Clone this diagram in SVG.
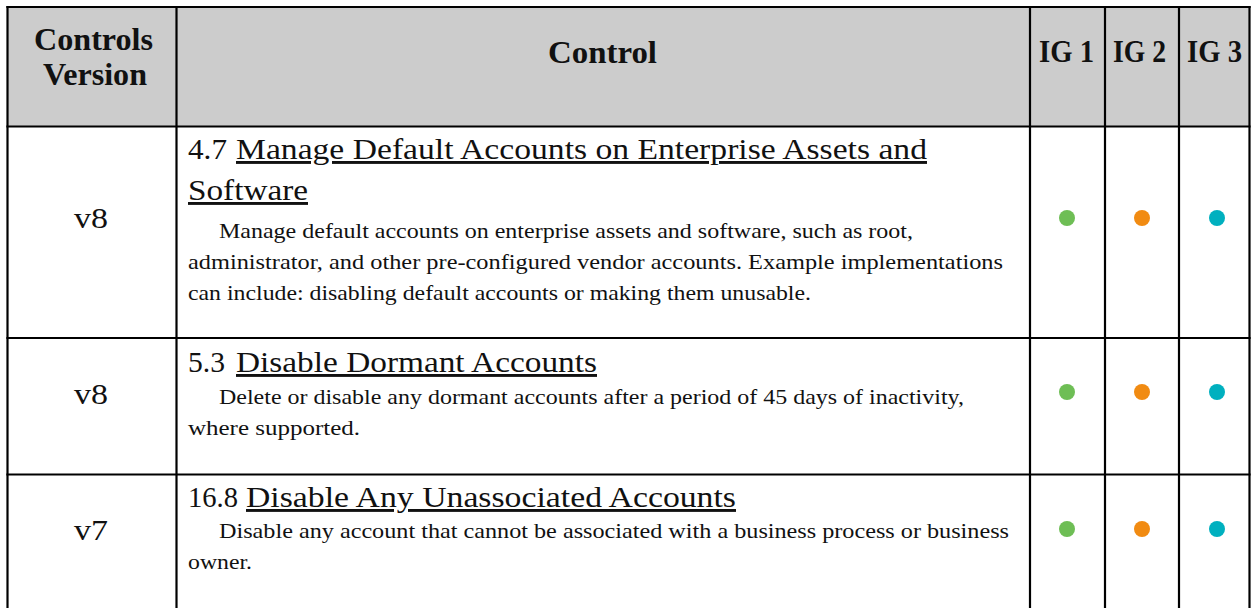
<svg xmlns="http://www.w3.org/2000/svg" width="1252" height="608" viewBox="0 0 1252 608">
<style>
.hd{font-family:"Liberation Serif","Times New Roman",serif;font-weight:bold;font-size:31px;fill:#111}
.ver{font-family:"Liberation Serif","Times New Roman",serif;font-size:30px;fill:#111}
.ttl{font-family:"Liberation Serif","Times New Roman",serif;font-size:29px;fill:#111}
.u{text-decoration:underline}
.bd{font-family:"Liberation Serif","Times New Roman",serif;font-size:21px;fill:#111}
.grid{stroke:#000;stroke-width:2.2;fill:none}
.g{fill:#6EBE55}.o{fill:#F18B12}.t{fill:#00B0BF}
</style>
<rect x="0" y="0" width="1252" height="608" fill="#fff"/>
<g id="header">
<rect x="7.5" y="7" width="1242" height="119.5" fill="#CCCCCC"/>
<text class="hd" x="34" y="50" textLength="119" lengthAdjust="spacingAndGlyphs">Controls</text>
<text class="hd" x="43" y="85" textLength="104" lengthAdjust="spacingAndGlyphs">Version</text>
<text class="hd" x="548" y="63" textLength="109" lengthAdjust="spacingAndGlyphs">Control</text>
<text class="hd" x="1039" y="62" textLength="55" lengthAdjust="spacingAndGlyphs">IG 1</text>
<text class="hd" x="1113" y="62" textLength="53" lengthAdjust="spacingAndGlyphs">IG 2</text>
<text class="hd" x="1187" y="62" textLength="55" lengthAdjust="spacingAndGlyphs">IG 3</text>
</g>
<g id="row1">
<text class="ver" x="74" y="228" textLength="34" lengthAdjust="spacingAndGlyphs">v8</text>
<text class="ttl" x="188" y="159" textLength="39" lengthAdjust="spacingAndGlyphs">4.7</text>
<text class="ttl u" x="236" y="159" textLength="691" lengthAdjust="spacingAndGlyphs">Manage Default Accounts on Enterprise Assets and</text>
<text class="ttl u" x="188" y="200" textLength="120" lengthAdjust="spacingAndGlyphs">Software</text>
<text class="bd" x="219" y="238" textLength="694" lengthAdjust="spacingAndGlyphs">Manage default accounts on enterprise assets and software, such as root,</text>
<text class="bd" x="188" y="269" textLength="815" lengthAdjust="spacingAndGlyphs">administrator, and other pre-configured vendor accounts. Example implementations</text>
<text class="bd" x="188" y="300" textLength="623" lengthAdjust="spacingAndGlyphs">can include: disabling default accounts or making them unusable.</text>
<circle class="g" cx="1067" cy="218" r="8"/>
<circle class="o" cx="1142" cy="218" r="8"/>
<circle class="t" cx="1217" cy="218" r="8"/>
</g>
<g id="row2">
<text class="ver" x="74" y="404" textLength="34" lengthAdjust="spacingAndGlyphs">v8</text>
<text class="ttl" x="188" y="372" textLength="37" lengthAdjust="spacingAndGlyphs">5.3</text>
<text class="ttl u" x="236" y="372" textLength="361" lengthAdjust="spacingAndGlyphs">Disable Dormant Accounts</text>
<text class="bd" x="219" y="404" textLength="745" lengthAdjust="spacingAndGlyphs">Delete or disable any dormant accounts after a period of 45 days of inactivity,</text>
<text class="bd" x="188" y="435" textLength="172" lengthAdjust="spacingAndGlyphs">where supported.</text>
<circle class="g" cx="1067" cy="392" r="8"/>
<circle class="o" cx="1142" cy="392" r="8"/>
<circle class="t" cx="1217" cy="392" r="8"/>
</g>
<g id="row3">
<text class="ver" x="74" y="540" textLength="34" lengthAdjust="spacingAndGlyphs">v7</text>
<text class="ttl" x="188" y="507" textLength="50" lengthAdjust="spacingAndGlyphs">16.8</text>
<text class="ttl u" x="246" y="507" textLength="490" lengthAdjust="spacingAndGlyphs">Disable Any Unassociated Accounts</text>
<text class="bd" x="219" y="538" textLength="790" lengthAdjust="spacingAndGlyphs">Disable any account that cannot be associated with a business process or business</text>
<text class="bd" x="188" y="569" textLength="64" lengthAdjust="spacingAndGlyphs">owner.</text>
<circle class="g" cx="1067" cy="529" r="8"/>
<circle class="o" cx="1142" cy="529" r="8"/>
<circle class="t" cx="1217" cy="529" r="8"/>
</g>
<g id="grid" class="grid">
<line x1="6.4" y1="7" x2="1250.6" y2="7"/>
<line x1="7.5" y1="6" x2="7.5" y2="608"/>
<line x1="176.5" y1="6" x2="176.5" y2="608"/>
<line x1="1030" y1="6" x2="1030" y2="608"/>
<line x1="1105" y1="6" x2="1105" y2="608"/>
<line x1="1179" y1="6" x2="1179" y2="608"/>
<line x1="1249.5" y1="6" x2="1249.5" y2="608"/>
<line x1="6.4" y1="126.5" x2="1250.6" y2="126.5"/>
<line x1="6.4" y1="338" x2="1250.6" y2="338"/>
<line x1="6.4" y1="474.5" x2="1250.6" y2="474.5"/>
</g>
</svg>
